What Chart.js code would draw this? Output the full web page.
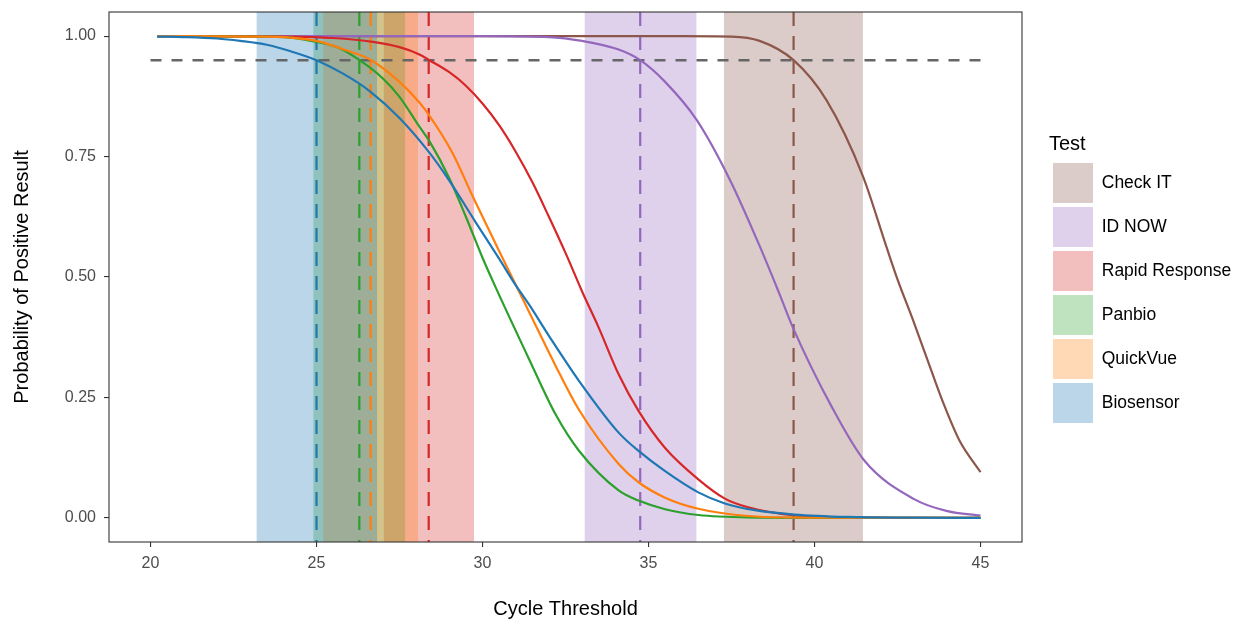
<!DOCTYPE html>
<html>
<head>
<meta charset="utf-8">
<script src="https://cdn.jsdelivr.net/npm/chart.js@4.4.1/dist/chart.umd.min.js"></script>
<style>
  html, body { margin: 0; padding: 0; background: #fff; }
  #wrap { width: 1238px; height: 619px; position: relative; }
</style>
</head>
<body>
<div id="wrap"><canvas id="chart"></canvas></div>
<script>
// tests, drawn order: first one ends up on top
const tests = ['Biosensor', 'QuickVue', 'Panbio', 'Rapid Response', 'ID NOW', 'Check IT'];
const colors = ['#1f77b4', '#ff7f0e', '#2ca02c', '#d62728', '#9467bd', '#8c564b'];
const legendOrder = ['Check IT', 'ID NOW', 'Rapid Response', 'Panbio', 'QuickVue', 'Biosensor'];

// Ct at 95% detection and its interval
const ct95 = [25.0, 26.63, 26.29, 28.38, 34.75, 39.37];
const ctLow = [23.19, 25.2, 24.9, 27.02, 33.07, 37.27];
const ctHigh = [26.83, 28.06, 27.67, 29.75, 36.45, 41.46];

const threshold = 0.95;
const thresholdCt = [20, 45];
const xTicks = [20, 25, 30, 35, 40, 45];
const yTicks = [0, 0.25, 0.5, 0.75, 1];
const xLimits = [18.75, 46.25];
const yLimits = [-0.05, 1.05];

// fitted curves
const ctBiosensor = [20.2, 21, 22, 22.7, 23.5, 24.2, 25, 25.8, 26.6, 27.5, 28.4, 29, 29.8, 30.5, 31, 31.4, 32, 32.9, 34.1, 34.7, 35.5, 36.5, 37.3, 38.2, 39.4, 41, 43, 45];
const pBiosensor = [0.999, 0.998, 0.995, 0.990, 0.982, 0.969, 0.950, 0.922, 0.886, 0.830, 0.758, 0.700, 0.613, 0.538, 0.483, 0.443, 0.378, 0.285, 0.177, 0.139, 0.097, 0.053, 0.030, 0.016, 0.007, 0.002, 0.0005, 0.0001];

const ctQuickVue = [20.2, 23, 24.2, 25, 26, 26.6, 27.5, 28.1, 28.4, 29.1, 29.7, 30.6, 31.1, 31.4, 32.2, 32.9, 34.1, 34.7, 35.5, 36.5, 38, 40, 45];
const pQuickVue = [1.0, 0.999, 0.997, 0.99, 0.968, 0.952, 0.905, 0.862, 0.835, 0.757, 0.668, 0.540, 0.470, 0.428, 0.316, 0.225, 0.112, 0.074, 0.042, 0.019, 0.004, 0.0005, 0];

const ctPanbio = [20.2, 23, 24.2, 25, 25.7, 26.3, 27, 27.5, 28.1, 28.4, 29, 29.5, 30, 30.4, 31.4, 32.2, 32.9, 34.1, 34.7, 35.5, 36.5, 38, 40, 45];
const pPanbio = [1.0, 0.999, 0.997, 0.988, 0.975, 0.950, 0.912, 0.874, 0.812, 0.782, 0.705, 0.625, 0.540, 0.478, 0.330, 0.215, 0.140, 0.057, 0.036, 0.018, 0.006, 0.001, 0.0002, 0];

const ctRapid = [20.2, 24, 25.5, 26.7, 27.5, 28.1, 28.4, 29, 29.5, 30, 30.5, 31, 31.5, 32, 32.5, 33, 33.5, 34.1, 34.7, 35.5, 36.5, 37.3, 38, 39.4, 41, 43, 45];
const pRapid = [1.0, 0.999, 0.996, 0.988, 0.977, 0.962, 0.950, 0.925, 0.897, 0.860, 0.815, 0.760, 0.697, 0.625, 0.550, 0.470, 0.395, 0.298, 0.222, 0.145, 0.080, 0.040, 0.022, 0.005, 0.001, 0.0002, 0];

const ctIdNow = [20.2, 30, 32, 33, 34.1, 34.75, 35.5, 36.45, 37.45, 38.35, 38.95, 39.35, 40.5, 41.5, 43, 44, 45];
const pIdNow = [1.0, 1.0, 0.998, 0.99, 0.972, 0.950, 0.905, 0.826, 0.702, 0.564, 0.464, 0.395, 0.233, 0.119, 0.039, 0.014, 0.005];

const ctCheckIt = [20.2, 36, 37.5, 38.35, 39.37, 40.36, 41.46, 42.16, 42.5, 42.96, 43.47, 43.9, 44.37, 45];
const pCheckIt = [1.0, 1.0, 0.999, 0.99, 0.950, 0.867, 0.709, 0.564, 0.495, 0.412, 0.315, 0.235, 0.160, 0.095];

const curveCt = [ctBiosensor, ctQuickVue, ctPanbio, ctRapid, ctIdNow, ctCheckIt];
const curveP = [pBiosensor, pQuickVue, pPanbio, pRapid, pIdNow, pCheckIt];

function rgba(hex, a) {
    const n = parseInt(hex.slice(1), 16);
    return 'rgba(' + (n >> 16) + ',' + ((n >> 8) & 255) + ',' + (n & 255) + ',' + a + ')';
}

const datasets = [];
tests.forEach(function (name, i) {
    datasets.push({
        label: name,
        data: curveCt[i].map((x, j) => ({ x: x, y: curveP[i][j] })),
        borderColor: colors[i],
        borderWidth: 2.2,
        pointRadius: 0,
        fill: false,
        cubicInterpolationMode: 'monotone',
        order: i,
    });
    // dashed line at the 95% Ct, drawn top down so the dash starts at the top
    datasets.push({
        label: name + ' ct95',
        data: [{ x: ct95[i], y: yLimits[1] }, { x: ct95[i], y: yLimits[0] }],
        borderColor: colors[i],
        borderWidth: 2.2,
        borderDash: [14, 10],
        pointRadius: 0,
        fill: false,
        order: 20 + i,
    });
    datasets.push({
        label: name + ' band',
        data: [{ x: ctLow[i], y: yLimits[1] }, { x: ctHigh[i], y: yLimits[1] }],
        borderWidth: 0,
        borderColor: 'rgba(0,0,0,0)',
        backgroundColor: rgba(colors[i], 0.3),
        pointRadius: 0,
        fill: 'start',
        order: 40 + i,
    });
});
datasets.push({
    label: 'threshold',
    data: thresholdCt.map(x => ({ x: x, y: threshold })),
    borderColor: '#666666',
    borderWidth: 2.6,
    borderDash: [11, 10],
    pointRadius: 0,
    fill: false,
    order: 10,
});

const panelBorder = {
    id: 'panelBorder',
    afterDatasetsDraw(chart) {
        const a = chart.chartArea;
        const ctx = chart.ctx;
        ctx.save();
        ctx.strokeStyle = '#333333';
        ctx.lineWidth = 1.1;
        ctx.strokeRect(a.left, a.top, a.right - a.left, a.bottom - a.top);
        ctx.restore();
    }
};

Chart.defaults.font.family = '"Liberation Sans", Arial, sans-serif';
Chart.defaults.animation = false;

new Chart(document.getElementById('chart'), {
    type: 'line',
    data: { datasets: datasets },
    plugins: [panelBorder],
    options: {
        responsive: true,
        maintainAspectRatio: false,
        layout: { padding: { left: 0, right: 0, top: 12, bottom: 0 } },
        plugins: {
            tooltip: { enabled: false },
            legend: {
                position: 'right',
                align: 'start',
                maxWidth: 189,
                title: {
                    display: true,
                    text: 'Test',
                    color: '#000',
                    font: { size: 20 },
                    position: 'start',
                    padding: { top: 122, bottom: 1 },
                },
                labels: {
                    boxWidth: 40,
                    boxHeight: 40,
                    padding: 4,
                    color: '#1a1a1a',
                    font: { size: 17.5 },
                    generateLabels: function () {
                        return legendOrder.map(function (name) {
                            const i = tests.indexOf(name);
                            return {
                                text: name,
                                fillStyle: rgba(colors[i], 0.3),
                                strokeStyle: 'rgba(0,0,0,0)',
                                lineWidth: 0,
                                hidden: false,
                                datasetIndex: i * 3 + 2,
                            };
                        });
                    },
                },
            },
        },
        scales: {
            x: {
                type: 'linear',
                min: xLimits[0],
                max: xLimits[1],
                afterBuildTicks: axis => { axis.ticks = xTicks.map(v => ({ value: v })); },
                afterFit: s => { s.height = 77; s.paddingLeft = 0; s.paddingRight = 0; },
                grid: { drawOnChartArea: false, drawTicks: true, tickLength: 5, color: '#333333', lineWidth: 1.1 },
                border: { display: false },
                ticks: { color: '#4d4d4d', font: { size: 16 }, padding: 7, maxRotation: 0 },
                title: { display: true, text: 'Cycle Threshold', color: '#000', font: { size: 20 }, padding: { top: 0, bottom: -2 } },
            },
            y: {
                type: 'linear',
                min: yLimits[0],
                max: yLimits[1],
                afterBuildTicks: axis => { axis.ticks = yTicks.map(v => ({ value: v })); },
                afterFit: s => { s.width = 109; s.paddingTop = 0; s.paddingBottom = 0; },
                grid: { drawOnChartArea: false, drawTicks: true, tickLength: 5, color: '#333333', lineWidth: 1.1 },
                border: { display: false },
                ticks: { color: '#4d4d4d', font: { size: 16 }, padding: 8, callback: v => v.toFixed(2) },
                title: { display: true, text: 'Probability of Positive Result', color: '#000', font: { size: 20 }, padding: { top: 10, bottom: 0 } },
            },
            gap: {
                type: 'linear',
                position: 'right',
                display: true,
                grid: { display: false },
                border: { display: false },
                ticks: { display: false },
                afterFit: s => { s.width = 27; s.paddingTop = 0; s.paddingBottom = 0; },
            },
        },
    },
});
</script>
</body>
</html>
